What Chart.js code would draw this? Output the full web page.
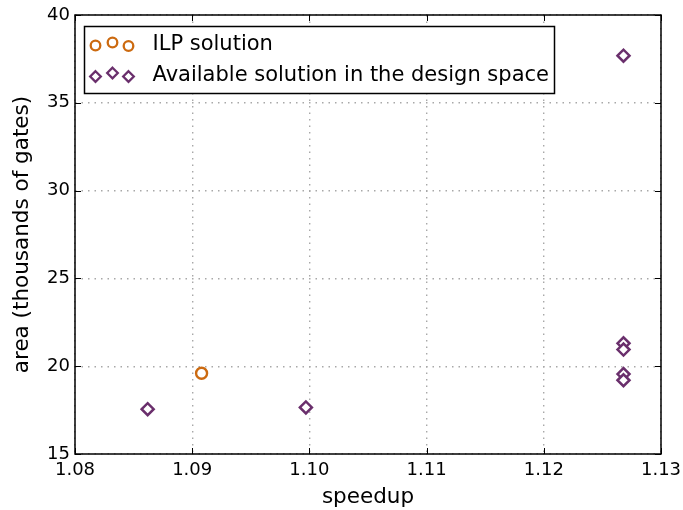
<!DOCTYPE html>
<html>
<head>
<meta charset="utf-8">
<script src="https://cdn.jsdelivr.net/npm/chart.js@4/dist/chart.umd.min.js"></script>
<style>
  html, body { margin: 0; padding: 0; background: #fff; }
  #wrap { width: 683px; height: 510px; }
</style>
</head>
<body>
<div id="wrap"><canvas id="c" width="683" height="510"></canvas></div>
<script>
// ---- data ----
const ilpSpeedup = [1.0908];
const ilpArea = [19.6];
const availSpeedup = [1.0862, 1.0997, 1.1268, 1.1268, 1.1268, 1.1268, 1.1268];
const availArea = [17.55, 17.65, 37.68, 21.3, 20.95, 19.55, 19.2];
const xTicks = [1.08, 1.09, 1.10, 1.11, 1.12, 1.13];
const yTicks = [15, 20, 25, 30, 35, 40];
const seriesLabels = ['ILP solution', 'Available solution in the design space'];
const xTitle = 'speedup';
const yTitle = 'area (thousands of gates)';

const ORANGE = '#cc6a10';
const PURPLE = '#6a2f6c';
const FONT = "'DejaVu Sans', sans-serif";

const toPoints = (xs, ys) => xs.map((x, i) => ({ x: x, y: ys[i] }));

const framePlugin = {
  id: 'frame',
  afterDraw(chart) {
    const { ctx, chartArea: a, scales } = chart;
    ctx.save();
    // inner ticks
    ctx.strokeStyle = '#000';
    ctx.lineWidth = 1;
    const L = 6;
    scales.x.ticks.forEach(t => {
      const px = Math.round(scales.x.getPixelForValue(t.value)) + 0.5;
      ctx.beginPath();
      ctx.moveTo(px, a.bottom); ctx.lineTo(px, a.bottom - L);
      ctx.moveTo(px, a.top); ctx.lineTo(px, a.top + L);
      ctx.stroke();
    });
    scales.y.ticks.forEach(t => {
      const py = Math.round(scales.y.getPixelForValue(t.value)) + 0.5;
      ctx.beginPath();
      ctx.moveTo(a.left, py); ctx.lineTo(a.left + L, py);
      ctx.moveTo(a.right, py); ctx.lineTo(a.right - L, py);
      ctx.stroke();
    });
    // frame
    ctx.lineWidth = 1.5;
    ctx.strokeRect(a.left, a.top, a.right - a.left, a.bottom - a.top);

    // legend box
    const bx = a.left + 9.5, by = a.top + 11.5, bw = 470, bh = 67;
    ctx.fillStyle = '#fff';
    ctx.fillRect(bx, by, bw, bh);
    ctx.lineWidth = 1.5;
    ctx.strokeStyle = '#000';
    ctx.strokeRect(bx, by, bw, bh);

    const rows = [
      { y: by + 17, label: seriesLabels[0], color: ORANGE, shape: 'circle', jit: [2, -1, 2.5] },
      { y: by + 48, label: seriesLabels[1], color: PURPLE, shape: 'diamond', jit: [2, -1.5, 2] }
    ];
    const mx = [bx + 11, bx + 28, bx + 44];
    rows.forEach(r => {
      ctx.strokeStyle = r.color;
      ctx.lineWidth = 2.3;
      mx.forEach((x, i) => {
        const y = r.y + r.jit[i];
        ctx.beginPath();
        if (r.shape === 'circle') {
          ctx.arc(x, y, 4.8, 0, Math.PI * 2);
        } else {
          const d = 5.3;
          ctx.moveTo(x, y - d); ctx.lineTo(x + d, y);
          ctx.lineTo(x, y + d); ctx.lineTo(x - d, y); ctx.closePath();
        }
        ctx.stroke();
      });
      ctx.fillStyle = '#000';
      ctx.font = "21px " + FONT;
      ctx.textBaseline = 'middle';
      ctx.textAlign = 'left';
      ctx.fillText(r.label, bx + 68, r.y + 1);
    });
    ctx.restore();
  }
};

new Chart(document.getElementById('c'), {
  type: 'scatter',
  data: {
    datasets: [
      {
        label: seriesLabels[1],
        data: toPoints(availSpeedup, availArea),
        pointStyle: 'rectRot',
        pointRadius: 6,
        pointBorderWidth: 2.5,
        borderColor: PURPLE,
        backgroundColor: 'rgba(255,255,255,1)'
      },
      {
        label: seriesLabels[0],
        data: toPoints(ilpSpeedup, ilpArea),
        pointStyle: 'circle',
        pointRadius: 5.5,
        pointBorderWidth: 2.4,
        borderColor: ORANGE,
        backgroundColor: 'rgba(255,255,255,1)'
      }
    ]
  },
  options: {
    responsive: false,
    animation: false,
    devicePixelRatio: 1,
    layout: { padding: { top: 15, right: 22, left: 0, bottom: 0 } },
    plugins: { legend: { display: false }, tooltip: { enabled: false } },
    scales: {
      x: {
        type: 'linear',
        min: xTicks[0], max: xTicks[xTicks.length - 1],
        afterBuildTicks: s => { s.ticks = xTicks.map(v => ({ value: v })); },
        afterFit: s => { s.height = 56; s.paddingLeft = 0; s.paddingRight = 0; },
        ticks: {
          color: '#000', font: { family: FONT, size: 18 }, padding: 6,
          maxRotation: 0, autoSkip: false,
          callback: v => Number(v).toFixed(2)
        },
        grid: { color: '#a8a8a8', lineWidth: 1.4, drawTicks: false },
        border: { display: false, dash: [1.5, 5] },
        title: { display: true, text: xTitle, color: '#000', font: { family: FONT, size: 21.5 }, padding: { top: 0, bottom: 0 } }
      },
      y: {
        type: 'linear',
        min: yTicks[0], max: yTicks[yTicks.length - 1],
        afterBuildTicks: s => { s.ticks = yTicks.map(v => ({ value: v })); },
        afterFit: s => { s.width = 75; s.paddingTop = 0; s.paddingBottom = 0; },
        ticks: {
          color: '#000', font: { family: FONT, size: 18 }, padding: 5,
          callback: v => String(v)
        },
        grid: { color: '#a8a8a8', lineWidth: 1.4, drawTicks: false },
        border: { display: false, dash: [1.5, 5] },
        title: { display: true, text: yTitle, color: '#000', font: { family: FONT, size: 21.5 }, padding: { top: 10, bottom: 0 } }
      }
    }
  },
  plugins: [framePlugin]
});
</script>
</body>
</html>
